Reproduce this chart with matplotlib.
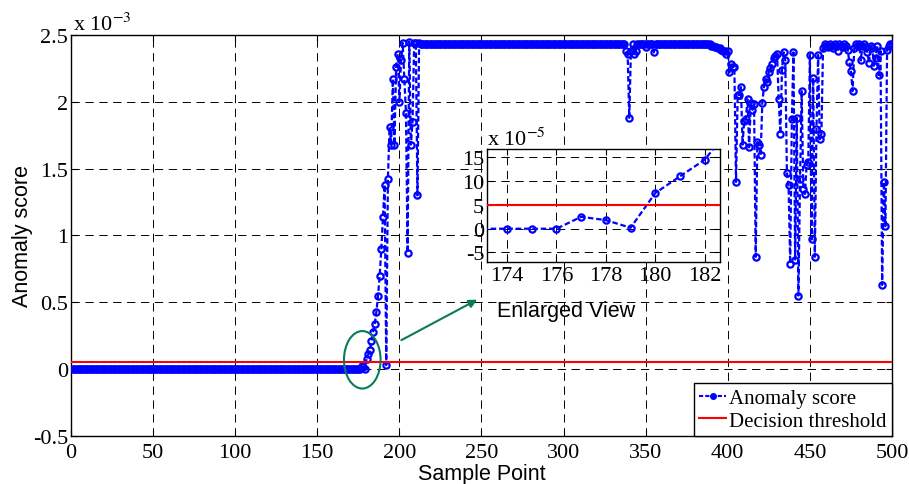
import numpy as np
import matplotlib
matplotlib.use("Agg")
import matplotlib.pyplot as plt
from matplotlib.lines import Line2D
from matplotlib.patches import Ellipse
from matplotlib.ticker import FuncFormatter

plt.rcParams["lines.scale_dashes"] = False
plt.rcParams["mathtext.fontset"] = "stix"

SERIF = "Liberation Serif"
SANS = "Liberation Sans"

# ── data (anomaly score in units of 1e-3) ─────────────────────────────────
quiet_part = [0.0] * 176                      # samples 1..176
rise_part = [                                 # samples 177..212
    0.025, 0.018, 0.002, 0.075, 0.11, 0.145, 0.21, 0.28, 0.34, 0.43,
    0.55, 0.70, 0.90, 1.14, 1.38, 0.03, 1.42, 1.81, 1.68, 2.17,
    1.68, 2.26, 2.36, 2.00, 2.31, 2.44, 2.17, 1.92, 0.87, 2.45,
    1.68, 1.85, 2.44, 2.44, 1.30, 2.44,
]
plateau_a = [2.43] * 125                      # samples 213..337
plateau_dips = [                              # samples 338..355
    2.38, 2.36, 1.88, 2.38, 2.43, 2.36, 2.38, 2.43, 2.43, 2.43,
    2.43, 2.43, 2.41, 2.43, 2.43, 2.43, 2.43, 2.37,
]
plateau_b = [2.43] * 33                       # samples 356..388
plateau_end = [2.43, 2.42, 2.42, 2.41, 2.41, 2.40]   # samples 389..394
unstable_part = [                             # samples 395..458
    2.40, 2.39, 2.38, 2.38, 2.36, 2.38, 2.22, 2.28, 2.26, 2.26,
    1.40, 2.05, 2.05, 2.11, 1.68, 1.86, 1.87, 2.02, 1.66, 1.99,
    1.94, 1.98, 0.84, 1.70, 1.68, 1.60, 1.99, 2.11, 2.17, 2.15,
    2.22, 2.25, 2.28, 2.33, 2.34, 2.36, 2.02, 1.76, 2.24, 2.37,
    2.31, 1.47, 1.38, 0.79, 1.87, 2.37, 0.82, 1.88, 0.55, 1.42,
    2.08, 1.35, 1.31, 1.53, 1.55, 2.35, 0.97, 2.18, 0.84, 1.80,
    2.35, 1.72, 1.76, 2.40,
]
tail_part = [                                 # samples 459..500
    2.43, 2.42, 2.41, 2.43, 2.42, 2.40, 2.43, 2.42, 2.38, 2.43,
    2.42, 2.41, 2.43, 2.42, 2.39, 2.30, 2.23, 2.08, 2.40, 2.43,
    2.42, 2.43, 2.31, 2.42, 2.43, 2.41, 2.37, 2.29, 2.42, 2.40,
    2.27, 2.33, 2.42, 2.20, 2.38, 0.63, 1.40, 1.07, 2.39, 2.42,
    2.43, 2.43,
]

score = np.array(quiet_part + rise_part + plateau_a + plateau_dips + plateau_b
                 + plateau_end + unstable_part + tail_part) * 1e-3
samples = np.arange(1, len(score) + 1)
threshold = 5e-5

main_xticks = list(range(0, 501, 50))
main_yticks = [-0.5e-3, 0, 0.5e-3, 1e-3, 1.5e-3, 2e-3, 2.5e-3]
inset_xticks = [174, 176, 178, 180, 182]
inset_yticks = [-5e-5, 0, 5e-5, 10e-5, 15e-5]

BLUE = "#0000FF"
GREEN = "#0B7A57"
GRID_KW = dict(color="black", linestyle=(0, (6, 4)), linewidth=0.7)
LINE_KW = dict(color=BLUE, linestyle=(0, (4, 2)), linewidth=1.6, marker="o",
               markersize=4.5, markerfacecolor="none", markeredgewidth=1.6)
TICK_SIZE = 16
LABEL_SIZE = 15.5


def style_axes(ax, fmt_scale, xpad=2):
    ax.tick_params(direction="in", top=True, right=True, length=4, width=0.8,
                   labelsize=TICK_SIZE, pad=2)
    ax.tick_params(axis="x", pad=xpad)
    for lab in ax.get_xticklabels() + ax.get_yticklabels():
        lab.set_fontfamily(SERIF)
    ax.yaxis.set_major_formatter(FuncFormatter(lambda v, p: f"{v * fmt_scale:g}"))
    for s in ax.spines.values():
        s.set_linewidth(1.0)
    ax.grid(True, **GRID_KW)


fig = plt.figure(figsize=(9.09, 4.85), dpi=100)

# ── main axes ────────────────────────────────────────────────────────────
ax = fig.add_axes([0.0781, 0.0990, 0.9032, 0.8268])
ax.plot(samples, score, **LINE_KW, zorder=3)
ax.axhline(threshold, color="red", linewidth=1.5, zorder=4)
ax.set_xlim(0, 500)
ax.set_ylim(-0.5e-3, 2.5e-3)
ax.set_xticks(main_xticks)
ax.set_yticks(main_yticks)
style_axes(ax, 1e3, xpad=5)
ax.text(0.002, 1.0, r"x 10$^{-3}$", transform=ax.transAxes, ha="left", va="bottom",
        fontsize=TICK_SIZE, family=SERIF)
ax.set_xlabel("Sample Point", fontsize=LABEL_SIZE, family=SANS, labelpad=1)
ax.set_ylabel("Anomaly score", fontsize=LABEL_SIZE, family=SANS, labelpad=0)

ax.add_patch(Ellipse((177.4, 0.07e-3), 22.3, 0.43e-3, fill=False,
                     edgecolor=GREEN, linewidth=1.5, zorder=5))
ax.annotate("", xy=(247.4, 0.52e-3), xytext=(201.2, 0.217e-3),
            arrowprops=dict(arrowstyle="-|>", color=GREEN, lw=1.5,
                            mutation_scale=12, shrinkA=0, shrinkB=0), zorder=5)
ax.text(301.7, 0.44e-3, "Enlarged View", fontsize=LABEL_SIZE, family=SANS,
        ha="center", va="center")

handles = [Line2D([], [], color=BLUE, linestyle=(0, (3, 1.5)), linewidth=1.5,
                  marker="o", markersize=4),
           Line2D([], [], color="red", linewidth=1.5)]
leg = ax.legend(handles, ["Anomaly score", "Decision threshold"], loc="lower right",
                bbox_to_anchor=(1.0, 0.0), prop={"family": SERIF, "size": 15},
                fancybox=False, framealpha=1, edgecolor="black", handlelength=1.3,
                handletextpad=0.15, borderpad=0.25, labelspacing=0.15,
                borderaxespad=0.0)
leg.get_frame().set_linewidth(1.0)
leg.set_zorder(10)

# ── inset ────────────────────────────────────────────────────────────────
axin = fig.add_axes([0.5358, 0.4577, 0.2563, 0.2330])
axin.plot(samples, score, **LINE_KW, zorder=3)
axin.axhline(threshold, color="red", linewidth=1.5, zorder=4)
axin.set_xlim(173.19, 182.62)
axin.set_ylim(-7e-5, 16.75e-5)
axin.set_xticks(inset_xticks)
axin.set_yticks(inset_yticks)
style_axes(axin, 1e5, xpad=3)
axin.text(0.0, 0.99, r"x 10$^{-5}$", transform=axin.transAxes, ha="left", va="bottom",
          fontsize=TICK_SIZE, family=SERIF)

fig.savefig("out.png", dpi=100)
